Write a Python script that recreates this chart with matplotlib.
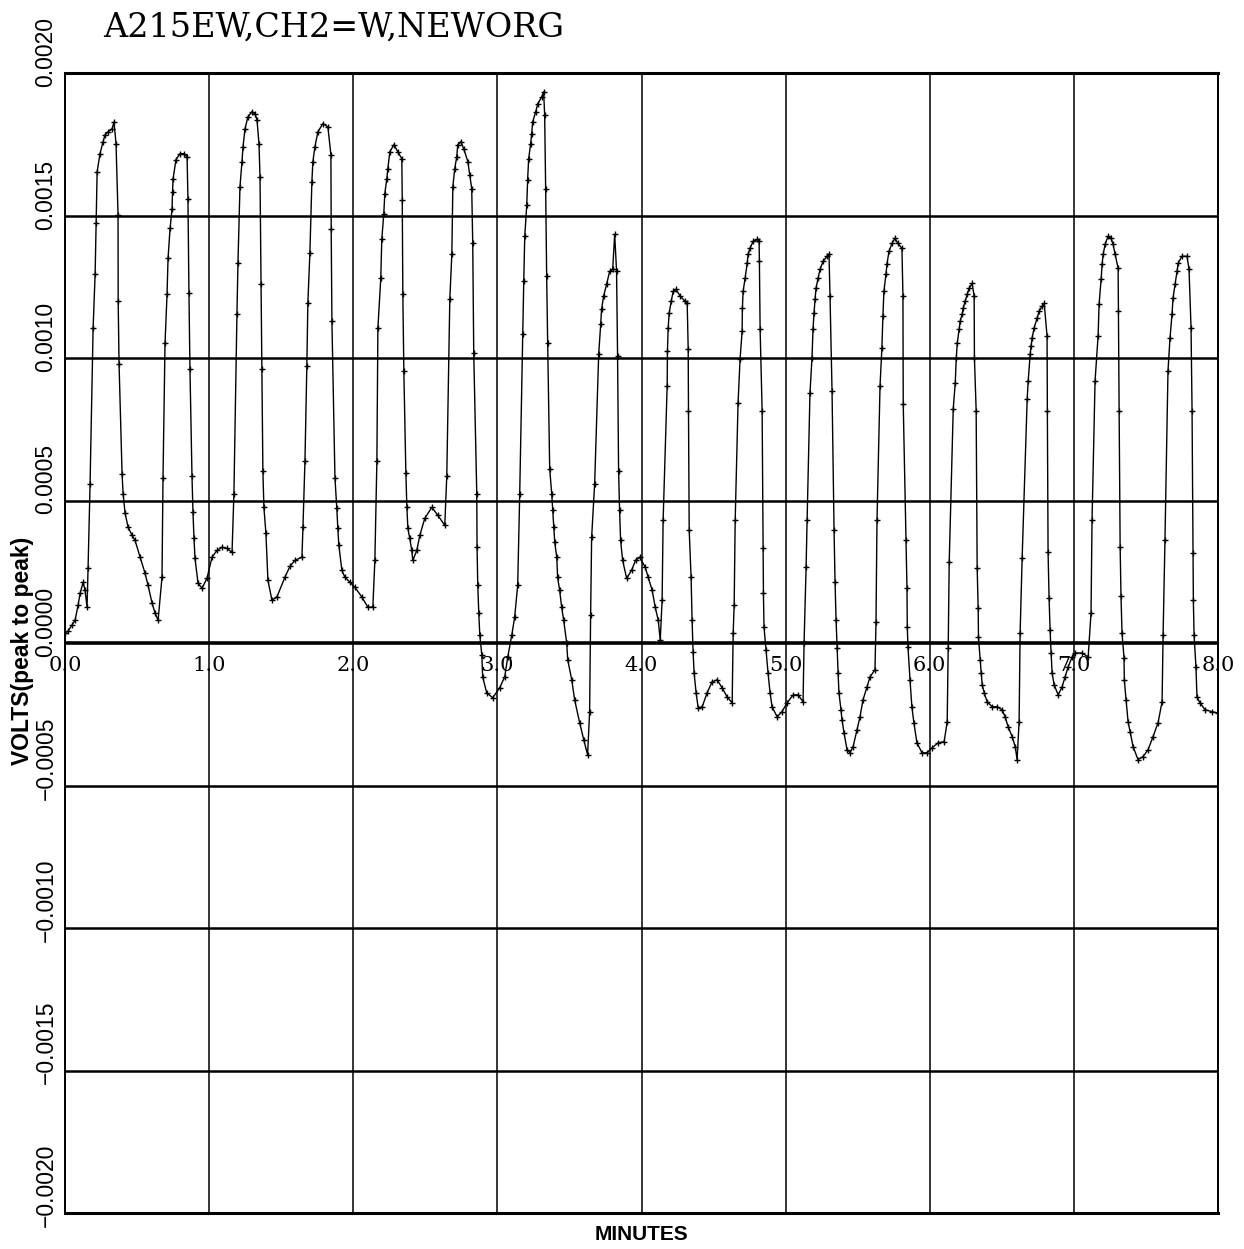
import numpy as np
import matplotlib
matplotlib.use('Agg')
import matplotlib.pyplot as plt
from matplotlib import transforms

title = "A215EW,CH2=W,NEWORG"

# trace: time (minutes) and signal (millivolts)
minutes = [
    0.001, 0.022, 0.049, 0.070, 0.091, 0.105, 0.126, 0.139, 0.153, 0.160,
    0.174, 0.195, 0.209, 0.216, 0.223, 0.243, 0.264, 0.278, 0.299, 0.327,
    0.340, 0.354, 0.368, 0.369, 0.375, 0.396, 0.403, 0.417, 0.438, 0.465,
    0.486, 0.521, 0.555, 0.576, 0.604, 0.625, 0.646, 0.673, 0.680, 0.694,
    0.708, 0.715, 0.729, 0.743, 0.746, 0.750, 0.770, 0.798, 0.826, 0.847,
    0.853, 0.860, 0.867, 0.881, 0.888, 0.895, 0.902, 0.923, 0.951, 0.985,
    1.020, 1.055, 1.089, 1.124, 1.159, 1.172, 1.193, 1.200, 1.214, 1.228,
    1.235, 1.249, 1.269, 1.297, 1.318, 1.332, 1.346, 1.353, 1.360, 1.366,
    1.373, 1.380, 1.394, 1.408, 1.436, 1.470, 1.526, 1.561, 1.595, 1.644,
    1.651, 1.665, 1.678, 1.685, 1.699, 1.713, 1.720, 1.734, 1.755, 1.789,
    1.824, 1.845, 1.847, 1.852, 1.873, 1.886, 1.893, 1.900, 1.921, 1.942,
    1.977, 2.011, 2.060, 2.101, 2.136, 2.150, 2.164, 2.171, 2.191, 2.198,
    2.212, 2.219, 2.233, 2.240, 2.254, 2.282, 2.309, 2.337, 2.340, 2.344,
    2.351, 2.365, 2.372, 2.379, 2.392, 2.406, 2.413, 2.441, 2.462, 2.496,
    2.545, 2.587, 2.635, 2.649, 2.670, 2.684, 2.691, 2.704, 2.718, 2.725,
    2.746, 2.767, 2.795, 2.808, 2.822, 2.829, 2.836, 2.857, 2.859, 2.864,
    2.871, 2.878, 2.892, 2.898, 2.926, 2.968, 3.016, 3.051, 3.072, 3.100,
    3.120, 3.141, 3.155, 3.176, 3.183, 3.190, 3.204, 3.210, 3.217, 3.231,
    3.238, 3.245, 3.266, 3.280, 3.308, 3.321, 3.328, 3.335, 3.342, 3.349,
    3.363, 3.377, 3.384, 3.391, 3.398, 3.412, 3.418, 3.432, 3.446, 3.460,
    3.481, 3.488, 3.516, 3.536, 3.571, 3.599, 3.626, 3.640, 3.647, 3.654,
    3.675, 3.703, 3.717, 3.723, 3.737, 3.758, 3.779, 3.800, 3.814, 3.827,
    3.834, 3.841, 3.848, 3.855, 3.869, 3.897, 3.931, 3.959, 3.987, 4.026,
    4.046, 4.074, 4.095, 4.116, 4.130, 4.143, 4.150, 4.178, 4.180, 4.185,
    4.192, 4.206, 4.220, 4.240, 4.268, 4.303, 4.317, 4.324, 4.326, 4.331,
    4.344, 4.351, 4.358, 4.365, 4.379, 4.393, 4.421, 4.455, 4.490, 4.525,
    4.559, 4.594, 4.629, 4.636, 4.643, 4.650, 4.670, 4.684, 4.698, 4.700,
    4.705, 4.719, 4.733, 4.740, 4.753, 4.774, 4.802, 4.816, 4.818, 4.823,
    4.837, 4.844, 4.846, 4.850, 4.864, 4.878, 4.892, 4.906, 4.941, 4.975,
    5.010, 5.052, 5.086, 5.121, 5.128, 5.142, 5.149, 5.169, 5.183, 5.190,
    5.197, 5.204, 5.211, 5.225, 5.239, 5.260, 5.287, 5.301, 5.308, 5.322,
    5.336, 5.343, 5.350, 5.357, 5.364, 5.370, 5.384, 5.391, 5.405, 5.426,
    5.447, 5.468, 5.495, 5.516, 5.537, 5.565, 5.585, 5.620, 5.627, 5.634,
    5.655, 5.668, 5.675, 5.682, 5.696, 5.703, 5.717, 5.738, 5.759, 5.779,
    5.807, 5.814, 5.816, 5.835, 5.842, 5.844, 5.849, 5.863, 5.876, 5.890,
    5.911, 5.946, 5.981, 6.017, 6.059, 6.100, 6.121, 6.128, 6.135, 6.163,
    6.177, 6.184, 6.191, 6.204, 6.211, 6.225, 6.232, 6.246, 6.260, 6.274,
    6.294, 6.308, 6.310, 6.322, 6.329, 6.336, 6.338, 6.350, 6.357, 6.364,
    6.378, 6.398, 6.433, 6.468, 6.502, 6.523, 6.544, 6.572, 6.593, 6.606,
    6.620, 6.627, 6.641, 6.676, 6.683, 6.697, 6.703, 6.710, 6.724, 6.745,
    6.759, 6.780, 6.794, 6.814, 6.816, 6.821, 6.828, 6.835, 6.842, 6.849,
    6.863, 6.891, 6.918, 6.939, 6.960, 6.988, 7.009, 7.057, 7.099, 7.119,
    7.126, 7.147, 7.168, 7.175, 7.189, 7.196, 7.203, 7.217, 7.237, 7.258,
    7.272, 7.286, 7.307, 7.309, 7.314, 7.321, 7.327, 7.334, 7.348, 7.350,
    7.362, 7.376, 7.390, 7.411, 7.445, 7.480, 7.515, 7.549, 7.584, 7.612,
    7.619, 7.632, 7.653, 7.667, 7.681, 7.688, 7.702, 7.716, 7.723, 7.750,
    7.785, 7.799, 7.813, 7.820, 7.827, 7.829, 7.834, 7.847, 7.854, 7.875,
    7.910, 7.958, 7.998,
]

millivolts = [
    0.035, 0.042, 0.063, 0.080, 0.133, 0.175, 0.213, 0.185, 0.126, 0.262,
    0.559, 1.105, 1.294, 1.472, 1.654, 1.717, 1.759, 1.783, 1.794, 1.804,
    1.829, 1.752, 1.503, 1.199, 0.979, 0.594, 0.524, 0.455, 0.406, 0.378,
    0.360, 0.301, 0.245, 0.203, 0.140, 0.105, 0.080, 0.231, 0.580, 1.052,
    1.224, 1.350, 1.455, 1.524, 1.584, 1.629, 1.696, 1.717, 1.717, 1.706,
    1.559, 1.227, 0.962, 0.587, 0.458, 0.367, 0.297, 0.210, 0.192, 0.227,
    0.301, 0.325, 0.336, 0.332, 0.318, 0.524, 1.154, 1.332, 1.601, 1.689,
    1.741, 1.804, 1.846, 1.864, 1.857, 1.836, 1.752, 1.636, 1.259, 0.962,
    0.605, 0.476, 0.385, 0.220, 0.150, 0.161, 0.231, 0.269, 0.290, 0.301,
    0.406, 0.640, 0.972, 1.192, 1.367, 1.619, 1.689, 1.741, 1.794, 1.822,
    1.811, 1.713, 1.451, 1.129, 0.580, 0.472, 0.402, 0.343, 0.255, 0.231,
    0.213, 0.196, 0.161, 0.126, 0.126, 0.290, 0.640, 1.105, 1.280, 1.416,
    1.507, 1.577, 1.629, 1.664, 1.724, 1.748, 1.724, 1.699, 1.556, 1.224,
    0.955, 0.598, 0.476, 0.402, 0.367, 0.325, 0.290, 0.325, 0.378, 0.437,
    0.476, 0.448, 0.413, 0.587, 1.206, 1.364, 1.601, 1.664, 1.706, 1.748,
    1.759, 1.734, 1.689, 1.643, 1.594, 1.402, 1.017, 0.524, 0.336, 0.203,
    0.105, 0.028, -0.042, -0.119, -0.175, -0.192, -0.157, -0.119, -0.049, 0.028,
    0.091, 0.203, 0.524, 1.084, 1.269, 1.427, 1.538, 1.626, 1.699, 1.752,
    1.787, 1.829, 1.864, 1.892, 1.916, 1.934, 1.853, 1.594, 1.287, 1.052,
    0.612, 0.524, 0.465, 0.406, 0.353, 0.301, 0.231, 0.185, 0.126, 0.080,
    0.000, -0.059, -0.129, -0.199, -0.280, -0.339, -0.392, -0.241, 0.098, 0.371,
    0.559, 1.014, 1.119, 1.171, 1.217, 1.259, 1.304, 1.311, 1.434, 1.304,
    1.007, 0.605, 0.465, 0.360, 0.290, 0.227, 0.255, 0.290, 0.301, 0.266,
    0.231, 0.185, 0.126, 0.080, 0.010, 0.150, 0.430, 0.902, 1.024, 1.105,
    1.157, 1.199, 1.234, 1.241, 1.217, 1.199, 1.192, 1.031, 0.815, 0.395,
    0.231, 0.080, -0.031, -0.105, -0.175, -0.227, -0.224, -0.175, -0.136, -0.129,
    -0.157, -0.189, -0.210, 0.035, 0.133, 0.430, 0.843, 0.997, 1.094, 1.175,
    1.234, 1.280, 1.332, 1.364, 1.385, 1.409, 1.416, 1.409, 1.339, 1.101,
    0.815, 0.332, 0.175, 0.056, -0.024, -0.105, -0.175, -0.224, -0.259, -0.241,
    -0.210, -0.182, -0.182, -0.206, 0.000, 0.266, 0.430, 0.878, 1.000, 1.101,
    1.157, 1.206, 1.245, 1.280, 1.311, 1.339, 1.357, 1.364, 1.217, 0.885,
    0.395, 0.213, 0.080, -0.017, -0.105, -0.175, -0.234, -0.269, -0.315, -0.374,
    -0.385, -0.364, -0.304, -0.259, -0.199, -0.154, -0.119, -0.094, 0.073, 0.430,
    0.902, 1.035, 1.147, 1.234, 1.294, 1.329, 1.374, 1.402, 1.420, 1.402,
    1.385, 1.217, 0.839, 0.360, 0.192, 0.056, -0.014, -0.129, -0.224, -0.280,
    -0.350, -0.385, -0.385, -0.367, -0.350, -0.346, -0.276, -0.017, 0.283, 0.822,
    0.913, 1.000, 1.052, 1.101, 1.129, 1.154, 1.175, 1.199, 1.224, 1.245,
    1.262, 1.217, 1.000, 0.815, 0.262, 0.122, 0.021, -0.059, -0.105, -0.147,
    -0.175, -0.206, -0.224, -0.224, -0.234, -0.259, -0.294, -0.329, -0.364, -0.409,
    -0.276, 0.035, 0.297, 0.857, 0.920, 1.014, 1.042, 1.070, 1.105, 1.140,
    1.164, 1.182, 1.192, 1.077, 0.815, 0.318, 0.157, 0.045, -0.035, -0.105,
    -0.147, -0.182, -0.154, -0.119, -0.084, -0.049, -0.035, -0.035, -0.049, 0.105,
    0.430, 0.920, 1.077, 1.189, 1.276, 1.329, 1.364, 1.399, 1.427, 1.420,
    1.399, 1.364, 1.315, 1.164, 0.815, 0.336, 0.164, 0.035, -0.052, -0.129,
    -0.199, -0.276, -0.311, -0.364, -0.409, -0.399, -0.374, -0.329, -0.280, -0.206,
    0.028, 0.360, 0.955, 1.070, 1.154, 1.210, 1.259, 1.304, 1.332, 1.357,
    1.357, 1.311, 1.105, 0.815, 0.315, 0.150, 0.028, -0.084, -0.189, -0.210,
    -0.234, -0.241, -0.245,
]

x_ticks = [0, 1, 2, 3, 4, 5, 6, 7, 8]
x_labels = ["0.0", "1.0", "2.0", "3.0", "4.0", "5.0", "6.0", "7.0", "8.0"]
y_ticks = [0.0020, 0.0015, 0.0010, 0.0005, 0.0, -0.0005, -0.0010, -0.0015, -0.0020]
y_labels = ["0.0020", "0.0015", "0.0010", "0.0005", "0.0000",
            "\u22120.0005", "\u22120.0010", "\u22120.0015", "\u22120.0020"]

volts = np.array(millivolts) / 1000.0

W, H = 1244, 1249
fig = plt.figure(figsize=(W / 100, H / 100), dpi=100)
ax = fig.add_axes([65 / W, 1 - 1213 / H, (1218 - 65) / W, (1213 - 73) / H])
ax.set_xlim(0, 8)
ax.set_ylim(-0.002, 0.002)
ax.set_xticks([])
ax.set_yticks([])
for side in ["left", "right"]:
    ax.spines[side].set_linewidth(1.4)
for side in ["top", "bottom"]:
    ax.spines[side].set_linewidth(2.2)

# grid
for t in x_ticks:
    ax.axvline(t, color="black", lw=1.1, zorder=1)
for v in y_ticks:
    ax.axhline(v, color="black", lw=2.6 if v == 0 else 1.8, zorder=1)

ax.plot(minutes, volts, color="black", lw=1.0, marker="+", ms=4.5, mew=1.0,
        zorder=3)

# minute labels sit just under the zero line
for t, lab in zip(x_ticks, x_labels):
    ax.text(t, -0.0000775, lab, ha="center", va="center", fontsize=15,
            family="DejaVu Serif", clip_on=False)

# rotated volt labels left of the frame
trans = transforms.blended_transform_factory(ax.transAxes, ax.transData)
trans = transforms.offset_copy(trans, fig=fig, x=0, y=-14, units="dots")
for v, lab in zip(y_ticks, y_labels):
    ax.text(-0.0165, v, lab, transform=trans, rotation=90,
            rotation_mode="anchor", ha="left", va="center", fontsize=16.5,
            family="Liberation Sans", clip_on=False)

fig.text(22 / W, 1 - 765 / H, "VOLTS(peak to peak)", rotation=90,
         rotation_mode="anchor", ha="left", va="center", fontsize=16.5,
         fontweight="bold", family="Liberation Sans")
fig.text(641.5 / W, 1 - 1234 / H, "MINUTES", ha="center", va="center",
         fontsize=15, fontweight="bold", family="Liberation Sans")
fig.text(103 / W, 1 - 37 / H, title, ha="left", va="baseline", fontsize=24,
         family="DejaVu Serif")

fig.savefig("out.png", dpi=100)
